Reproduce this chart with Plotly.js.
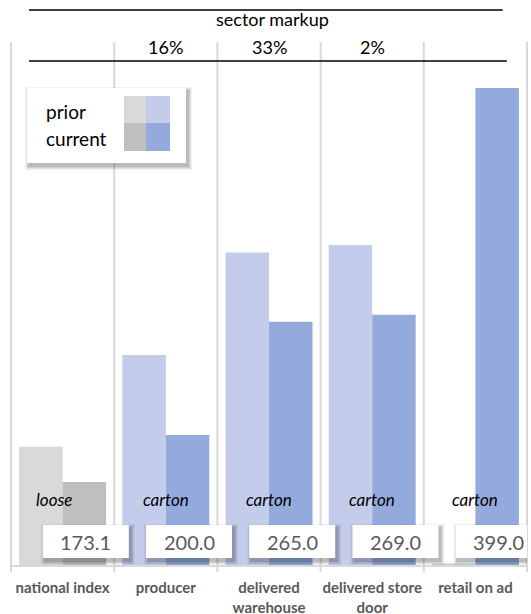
<!DOCTYPE html>
<html>
<head>
<meta charset="utf-8">
<script src="https://cdn.plot.ly/plotly-3.0.1.min.js"></script>
<style>
html,body{margin:0;padding:0;background:#fff;}
#chart{width:531px;height:614px;}
</style>
</head>
<body>
<div id="chart"></div>
<script>
// ---- data ----
var categories = ['national index', 'producer', 'delivered warehouse', 'delivered store door', 'retail on ad'];
var tickLabels = ['national index', 'producer', 'delivered<br>warehouse', 'delivered store<br>door', 'retail on ad'];
var priorValues = [193.3, 245.9, 304.6, 309.0, 126.3];
var currentValues = [173.1, 200.0, 265.0, 269.0, 399.0];
var valueLabels = ['173.1', '200.0', '265.0', '269.0', '399.0'];
var packaging = ['loose', 'carton', 'carton', 'carton', 'carton'];
var markups = ['', '16%', '33%', '2%', ''];
var priorColors = ['#d9d9d9', '#c3cdeb', '#c3cdeb', '#c3cdeb', '#c3cdeb'];
var currentColors = ['#bfbfbf', '#94a9dc', '#94a9dc', '#94a9dc', '#94a9dc'];

var FONT = 'Lato, "Open Sans", sans-serif';
var idx = categories.map(function (c, i) { return i; });

var traces = [
  {type: 'bar', name: 'prior', x: idx, y: priorValues,
   marker: {color: priorColors}, hoverinfo: 'skip'},
  {type: 'bar', name: 'current', x: idx, y: currentValues,
   marker: {color: currentColors}, hoverinfo: 'skip'}
];

var shapes = [];
var annotations = [];
var n = categories.length;

// vertical separators
for (var i = 0; i <= n; i++) {
  shapes.push({type: 'line', xref: 'paper', yref: 'paper', layer: 'below',
    x0: i / n, x1: i / n, y0: -0.014, y1: 0.996,
    line: {color: '#d9d9d9', width: 2}});
}
// header lines
shapes.push({type: 'line', xref: 'paper', yref: 'paper', x0: 0.035, x1: 0.953, y0: 1.0571, y1: 1.0571,
  line: {color: '#000', width: 1.5}});
shapes.push({type: 'line', xref: 'paper', yref: 'paper', x0: 0.035, x1: 0.961, y0: 0.96, y1: 0.96,
  line: {color: '#000', width: 1.5}});

annotations.push({xref: 'paper', yref: 'paper', x: 0.506, y: 1.040, text: 'sector markup', showarrow: false,
  font: {family: FONT, size: 18, color: '#000'}, xanchor: 'center', yanchor: 'middle'});

markups.forEach(function (m, i) {
  if (!m) return;
  annotations.push({xref: 'x', yref: 'paper', x: i, y: 0.987, text: m, showarrow: false,
    font: {family: FONT, size: 18, color: '#000'}, xanchor: 'center', yanchor: 'middle'});
});

// legend box
function shadowRects(xref, xa, yref, ya, x0, x1, y0, y1) {
  var layers = [[4, 0.05], [3, 0.06], [2, 0.08], [1, 0.10]];
  layers.forEach(function (l) {
    var d = l[0];
    shapes.push({type: 'rect', xref: xref, yref: yref,
      xsizemode: 'pixel', ysizemode: 'pixel', xanchor: xa, yanchor: ya,
      x0: x0 - d + 2, x1: x1 + d + 2, y0: y0 - d - 3, y1: y1 + d - 3,
      fillcolor: 'rgba(0,0,0,' + l[1] + ')', line: {width: 0}, layer: 'above'});
  });
}
// legend: anchor at paper (0,1) => pixel (11,40)
shadowRects('paper', 0, 'paper', 1, 16, 175, -123, -48);
shapes.push({type: 'rect', xref: 'paper', yref: 'paper', xsizemode: 'pixel', ysizemode: 'pixel',
  xanchor: 0, yanchor: 1, x0: 16, x1: 175, y0: -123, y1: -48,
  fillcolor: '#fff', line: {width: 0}, layer: 'above'});
var sw = [[113, 135, -56, -83, priorColors[0]], [135, 159, -56, -83, priorColors[1]],
          [113, 135, -83, -111, currentColors[0]], [135, 159, -83, -111, currentColors[1]]];
sw.forEach(function (s) {
  shapes.push({type: 'rect', xref: 'paper', yref: 'paper', xsizemode: 'pixel', ysizemode: 'pixel',
    xanchor: 0, yanchor: 1, x0: s[0], x1: s[1], y0: s[2], y1: s[3],
    fillcolor: s[4], line: {width: 0}, layer: 'above'});
});
annotations.push({xref: 'paper', yref: 'paper', x: 33 / 516, y: 1 - 71 / 525, text: traces[0].name,
  showarrow: false, xanchor: 'left', yanchor: 'middle', font: {family: FONT, size: 19, color: '#000'}});
annotations.push({xref: 'paper', yref: 'paper', x: 33 / 516, y: 1 - 98 / 525, text: traces[1].name,
  showarrow: false, xanchor: 'left', yanchor: 'middle', font: {family: FONT, size: 19, color: '#000'}});

// packaging labels and value boxes
var boxOffset = 0.225;
packaging.forEach(function (p, i) {
  annotations.push({xref: 'x', yref: 'paper', x: i, y: 0.124, text: '<i>' + p + '</i>', showarrow: false,
    xshift: i === 0 ? -9 : 0,
    font: {family: FONT, size: 17, color: '#000'}, xanchor: 'center', yanchor: 'middle'});
  shadowRects('x', i + boxOffset, 'paper', 0, -43, 43, 7, 40);
  shapes.push({type: 'rect', xref: 'x', yref: 'paper', xsizemode: 'pixel', ysizemode: 'pixel',
    xanchor: i + boxOffset, yanchor: 0, x0: -43, x1: 43, y0: 7, y1: 40,
    fillcolor: '#fff', line: {width: 0}, layer: 'above'});
  annotations.push({xref: 'x', yref: 'paper', x: i + boxOffset, y: 23.5 / 525, text: valueLabels[i],
    showarrow: false, xanchor: 'center', yanchor: 'middle',
    font: {family: FONT, size: 20, color: '#595959'}});
});

var layout = {
  width: 531, height: 614,
  margin: {l: 11, r: 4, t: 40, b: 49, pad: 0},
  paper_bgcolor: '#fff', plot_bgcolor: '#fff',
  showlegend: false,
  barmode: 'group', bargap: 0.157, bargroupgap: 0,
  xaxis: {type: 'linear', range: [-0.5, n - 0.5], tickvals: idx, ticktext: tickLabels,
    showgrid: false, zeroline: false, showline: true, linecolor: '#d9d9d9', linewidth: 2,
    ticks: '', ticklabelstandoff: 8,
    tickfont: {family: FONT, size: 15, color: '#595959', weight: 'bold'}},
  yaxis: {range: [125.5, 426.5], showgrid: false, zeroline: false, showline: false,
    showticklabels: false, ticks: ''},
  shapes: shapes,
  annotations: annotations
};

Plotly.newPlot('chart', traces, layout, {displayModeBar: false, staticPlot: true});
</script>
</body>
</html>
